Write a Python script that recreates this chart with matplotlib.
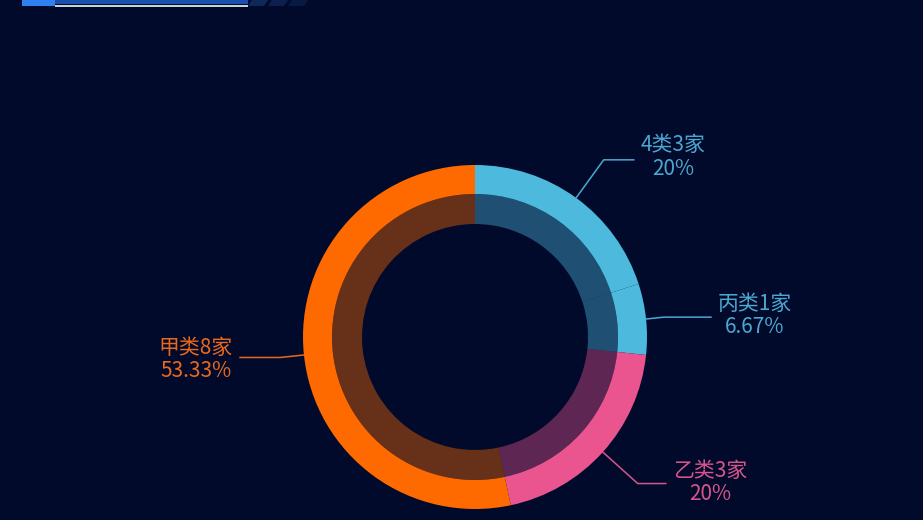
import matplotlib
matplotlib.use("Agg")
import matplotlib.pyplot as plt
from matplotlib.patches import Rectangle, Polygon
import numpy as np

plt.rcParams['font.family'] = ['Noto Sans CJK SC', 'DejaVu Sans']

# 数据
names = ['4类', '丙类', '乙类', '甲类']
counts = [3, 1, 3, 8]
colors = ['#4cb9dd', '#4cb9dd', '#ea5590', '#ff6a00']
text_colors = ['#4aa8d0', '#4aa8d0', '#d8558c', '#e8681c']

# 布局 (像素)
W, H = 923, 520
bg = '#020a2b'
cx, cy = 475, H - 337
r_out, r_mid, r_in = 172, 143, 113
# 引导线: 第一段长度, 第二段长度, 文字上下偏移
len1 = [47, 18, 47, 24]
len2 = [30, 47, 28, 40]
dy_text = [2.5, 1.5, 1, -2]

fig = plt.figure(figsize=(W / 100, H / 100), dpi=100, facecolor=bg)
ax = fig.add_axes([0, 0, 1, 1])
ax.set_facecolor(bg)

# 外环
wedges, _ = ax.pie(counts, colors=colors, startangle=90, counterclock=False,
                   center=(cx, cy), radius=r_out, frame=True,
                   wedgeprops=dict(width=r_out - r_mid, linewidth=0))
# 内环 (半透明)
ax.pie(counts, colors=colors, startangle=90, counterclock=False,
       center=(cx, cy), radius=r_mid, frame=True,
       wedgeprops=dict(width=r_mid - r_in, linewidth=0, alpha=0.4))
ax.set_xlim(0, W)
ax.set_ylim(0, H)
ax.set_aspect('equal')
ax.axis('off')

total = sum(counts)
for i, w in enumerate(wedges):
    ang = np.deg2rad((w.theta1 + w.theta2) / 2)
    p0 = (cx + r_out * np.cos(ang), cy + r_out * np.sin(ang))
    p1 = (cx + (r_out + len1[i]) * np.cos(ang), cy + (r_out + len1[i]) * np.sin(ang))
    side = 1 if np.cos(ang) >= 0 else -1
    p2 = (p1[0] + side * len2[i], p1[1])
    ax.plot([p0[0], p1[0], p2[0]], [p0[1], p1[1], p2[1]],
            color=text_colors[i], lw=1.1)
    pct = round(counts[i] / total * 100, 2)
    pct_s = ('%.2f' % pct).rstrip('0').rstrip('.')
    label = f'{names[i]}{counts[i]}家\n{pct_s}%'
    ax.text(p2[0] + side * 7, p2[1] + dy_text[i], label, color=text_colors[i],
            fontsize=15, ha='left' if side > 0 else 'right', va='center',
            multialignment='center', linespacing=1.1)

# 顶部装饰条
ax.add_patch(Rectangle((22, H - 6), 33, 6, color='#2f80f0', lw=0))
ax.add_patch(Rectangle((55, H - 4), 193, 4, color='#1b4fae', lw=0))
ax.add_patch(Rectangle((55, H - 6.5), 193, 2, color='#c8d0e0', lw=0))
for k, x0 in enumerate([252, 272, 292]):
    ax.add_patch(Polygon([(x0, H), (x0 + 16, H), (x0 + 12, H - 6), (x0 - 4, H - 6)],
                         closed=True, color='#123066', alpha=0.8 - 0.2 * k, lw=0))

fig.savefig('out.png', dpi=100, facecolor=bg)
